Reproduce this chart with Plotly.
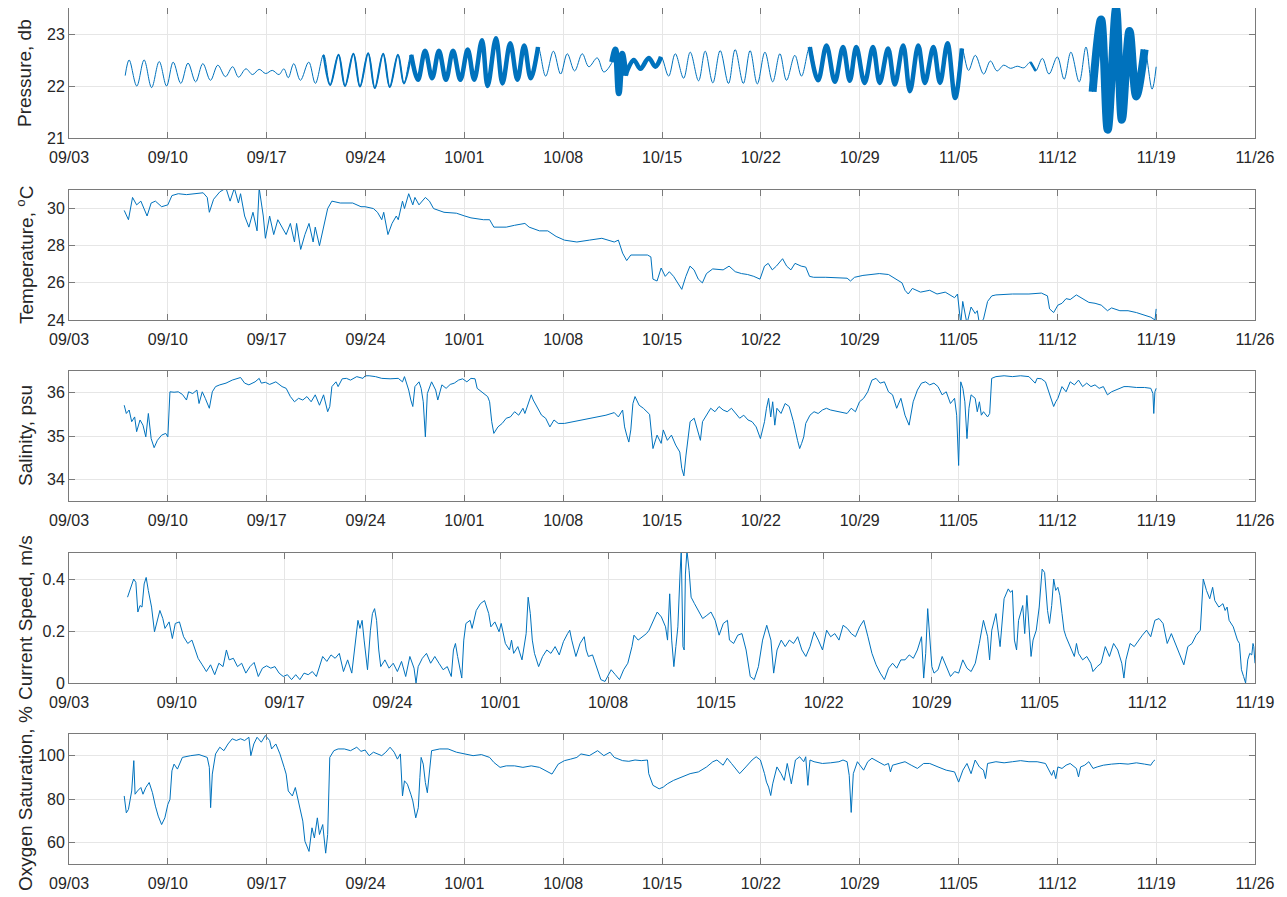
import numpy as np
import pandas as pd
import plotly.graph_objects as go

T0 = pd.Timestamp("2020-09-03")

# ---------------- data (day offset from 09/03, value) ----------------
pressure_db = [
    (3.98, 22.2), (4.26, 22.5), (4.80, 22.0), (5.32, 22.5), (5.85, 21.97), (6.39, 22.47), (6.91, 22.0),
    (7.38, 22.46), (7.92, 22.05), (8.43, 22.44), (8.97, 22.08), (9.48, 22.43), (10.02, 22.11), (10.54, 22.4),
    (11.08, 22.18), (11.59, 22.37), (12.01, 22.17), (12.53, 22.33), (13.00, 22.22), (13.47, 22.32),
    (13.93, 22.24), (14.40, 22.3), (14.87, 22.22), (15.22, 22.33), (15.53, 22.16), (15.92, 22.43),
    (16.39, 22.11), (16.98, 22.46), (17.45, 22.05), (18.03, 22.6), (18.50, 22.02), (19.09, 22.6),
    (19.55, 22.0), (20.14, 22.62), (20.61, 21.99), (21.19, 22.63), (21.66, 21.96), (22.25, 22.62),
    (22.72, 21.98), (23.30, 22.6), (23.72, 22.05), (24.24, 22.6), (24.72, 22.12), (25.22, 22.68),
    (25.72, 22.15), (26.20, 22.68), (26.70, 22.12), (27.20, 22.68), (27.72, 22.12), (28.24, 22.7),
    (28.70, 22.12), (29.25, 22.88), (29.65, 22.0), (30.24, 22.92), (30.70, 22.05), (31.25, 22.82),
    (31.76, 22.12), (32.24, 22.78), (32.70, 22.15), (33.22, 22.75), (33.76, 22.19), (34.31, 22.67),
    (34.82, 22.23), (35.29, 22.62), (35.81, 22.29), (36.35, 22.62), (36.82, 22.37), (37.41, 22.54),
    (37.88, 22.27), (38.47, 22.46), (38.70, 22.7), (38.94, 21.86), (39.18, 22.62), (39.41, 22.2),
    (40.00, 22.5), (40.47, 22.33), (41.06, 22.54), (41.53, 22.37), (41.93, 22.56), (42.47, 22.19),
    (42.94, 22.62), (43.53, 22.15), (44.00, 22.65), (44.59, 22.1), (45.06, 22.67), (45.60, 22.06),
    (46.12, 22.68), (46.71, 22.05), (47.18, 22.7), (47.76, 22.05), (48.24, 22.68), (48.75, 22.04),
    (49.29, 22.65), (49.84, 22.08), (50.35, 22.62), (50.82, 22.11), (51.41, 22.59), (51.88, 22.19),
    (52.47, 22.75), (53.06, 22.11), (53.65, 22.78), (54.24, 22.08), (54.82, 22.75), (55.30, 22.1),
    (55.76, 22.75), (56.35, 22.06), (56.94, 22.75), (57.42, 22.06), (58.01, 22.72), (58.49, 22.03),
    (59.08, 22.78), (59.56, 21.9), (60.15, 22.78), (60.62, 22.06), (61.22, 22.75), (61.69, 22.06),
    (62.22, 22.82), (62.76, 21.77), (63.24, 22.72), (63.71, 22.3), (64.19, 22.59), (64.78, 22.23),
    (65.26, 22.48), (65.73, 22.29), (66.20, 22.4), (66.68, 22.34), (67.16, 22.38), (67.63, 22.35),
    (68.10, 22.46), (68.46, 22.29), (68.94, 22.53), (69.41, 22.23), (70.00, 22.56), (70.48, 22.13),
    (70.96, 22.65), (71.55, 22.08), (72.03, 22.75), (72.50, 21.89), (73.10, 23.28), (73.57, 21.16),
    (74.16, 23.49), (74.57, 21.35), (75.11, 23.06), (75.59, 21.8), (76.18, 22.7), (76.71, 21.94),
    (77.00, 22.37),
]
# spans (day offsets) where short-period waves thicken the pressure record, with band weight
pressure_wave_spans = [
    (17.7, 24.3, 2.0), (24.2, 33.4, 4.5), (38.45, 39.45, 6.0), (39.4, 42.0, 4.5),
    (52.0, 63.3, 4.5), (68.0, 68.5, 2.5), (72.45, 76.2, 8.0),
]

temperature_c = [
    (3.91, 29.9), (4.21, 29.4), (4.50, 30.6), (4.79, 30.2), (5.09, 30.4), (5.53, 29.6), (5.82, 30.3),
    (6.12, 30.4), (6.56, 30.1), (7.00, 30.2), (7.29, 30.7), (7.74, 30.8), (8.32, 30.75), (8.91, 30.8),
    (9.50, 30.85), (9.79, 30.6), (9.94, 29.8), (10.24, 30.5), (10.68, 30.9), (11.12, 31.1), (11.41, 30.4),
    (11.71, 31.1), (12.00, 30.3), (12.15, 30.8), (12.44, 29.6), (12.74, 29.0), (13.03, 29.8), (13.32, 28.8),
    (13.47, 31.1), (13.76, 29.6), (13.91, 28.4), (14.21, 29.6), (14.50, 28.6), (14.79, 29.4), (15.09, 29.0),
    (15.38, 28.6), (15.68, 29.2), (15.97, 28.2), (16.12, 29.2), (16.41, 27.8), (16.71, 28.6), (17.00, 29.2),
    (17.29, 28.2), (17.44, 29.0), (17.74, 28.0), (18.03, 29.0), (18.32, 30.0), (18.62, 30.4), (19.21, 30.3),
    (20.09, 30.3), (20.68, 30.1), (20.97, 30.1), (21.56, 30.0), (21.85, 29.8), (22.15, 29.4), (22.29, 29.8),
    (22.59, 28.6), (22.88, 29.2), (23.18, 29.6), (23.32, 29.4), (23.62, 30.4), (23.76, 30.0), (24.06, 30.8),
    (24.35, 30.2), (24.50, 30.6), (24.79, 30.2), (25.24, 30.6), (25.53, 30.4), (25.82, 30.0), (26.56, 29.8),
    (27.44, 29.75), (28.03, 29.6), (28.47, 29.5), (29.35, 29.4), (29.79, 29.4), (30.09, 29.0), (30.97, 29.0),
    (31.56, 29.1), (32.29, 29.2), (32.59, 29.0), (33.32, 28.8), (33.91, 28.8), (34.50, 28.5), (35.09, 28.3),
    (35.97, 28.2), (36.85, 28.3), (37.74, 28.4), (38.62, 28.2), (38.91, 28.3), (39.21, 27.6), (39.50, 27.2),
    (39.79, 27.5), (40.97, 27.5), (41.21, 27.4), (41.36, 26.2), (41.65, 26.1), (41.94, 26.8), (42.23, 26.35),
    (42.52, 26.6), (42.82, 26.35), (43.40, 25.65), (43.69, 26.35), (43.98, 26.9), (44.27, 26.7), (44.57, 26.2),
    (44.86, 26.0), (45.15, 26.5), (45.59, 26.75), (46.33, 26.7), (46.75, 26.9), (47.19, 26.6), (47.63, 26.5),
    (48.06, 26.45), (48.50, 26.35), (48.94, 26.2), (49.26, 26.9), (49.52, 27.05), (49.81, 26.7), (50.10, 26.9),
    (50.54, 27.3), (50.83, 26.9), (51.13, 26.7), (51.42, 27.05), (51.86, 26.9), (52.18, 26.85), (52.45, 26.35),
    (52.74, 26.3), (53.60, 26.3), (54.48, 26.25), (55.11, 26.25), (55.35, 26.1), (55.64, 26.3), (56.23, 26.4),
    (56.81, 26.45), (57.39, 26.5), (58.04, 26.45), (58.56, 26.2), (59.00, 26.0), (59.21, 25.6), (59.44, 25.4),
    (59.73, 25.7), (60.31, 25.5), (60.96, 25.6), (61.48, 25.4), (62.06, 25.5), (62.72, 25.2), (62.93, 25.4),
    (63.16, 23.8), (63.30, 25.0), (63.60, 23.8), (63.89, 24.7), (64.18, 24.35), (64.33, 24.5), (64.48, 23.8),
    (64.77, 24.05), (65.06, 25.0), (65.36, 25.3), (65.65, 25.35), (66.82, 25.4), (67.99, 25.4), (68.87, 25.45),
    (69.30, 25.3), (69.45, 24.6), (69.74, 24.4), (70.04, 24.8), (70.33, 24.9), (70.62, 25.15), (70.91, 25.1),
    (71.35, 25.35), (71.79, 25.15), (72.23, 24.95), (72.67, 24.9), (73.11, 24.8), (73.55, 24.5), (73.84, 24.65),
    (74.43, 24.5), (75.01, 24.5), (75.60, 24.4), (76.18, 24.25), (76.62, 24.15), (76.92, 24.0), (77.00, 24.6),
]

salinity_psu = [
    (3.91, 35.71), (4.06, 35.52), (4.26, 35.6), (4.44, 35.33), (4.65, 35.44), (4.79, 35.1), (5.03, 35.37),
    (5.24, 35.25), (5.44, 34.98), (5.62, 35.52), (5.82, 34.94), (6.03, 34.73), (6.26, 34.9), (6.56, 35.02),
    (6.85, 35.06), (7.00, 34.98), (7.15, 36.02), (7.44, 36.01), (7.74, 36.02), (8.03, 35.96), (8.32, 35.83),
    (8.47, 36.02), (8.76, 35.98), (9.06, 36.06), (9.21, 35.75), (9.44, 36.02), (9.65, 35.87), (9.94, 35.64),
    (10.15, 36.02), (10.38, 36.14), (10.68, 36.18), (11.12, 36.22), (11.56, 36.29), (11.85, 36.32),
    (12.15, 36.35), (12.44, 36.22), (12.74, 36.18), (13.18, 36.25), (13.47, 36.33), (13.62, 36.22),
    (13.91, 36.24), (14.21, 36.19), (14.65, 36.25), (15.09, 36.14), (15.38, 36.1), (15.68, 35.91),
    (15.97, 35.79), (16.26, 35.87), (16.56, 35.83), (16.85, 35.91), (17.15, 35.79), (17.44, 35.95),
    (17.74, 35.71), (18.03, 35.95), (18.32, 35.56), (18.47, 35.68), (18.62, 36.14), (18.91, 36.25),
    (19.06, 36.14), (19.35, 36.32), (19.65, 36.33), (19.94, 36.29), (20.38, 36.37), (20.82, 36.33),
    (20.97, 36.39), (21.26, 36.39), (21.71, 36.37), (22.15, 36.33), (22.74, 36.32), (23.32, 36.33),
    (23.62, 36.25), (23.76, 36.37), (24.06, 36.06), (24.21, 35.83), (24.35, 35.68), (24.50, 36.14),
    (24.79, 36.25), (24.94, 36.1), (25.09, 35.79), (25.24, 34.98), (25.38, 35.98), (25.68, 36.25),
    (25.97, 36.06), (26.12, 35.83), (26.41, 36.18), (26.71, 36.1), (27.00, 36.19), (27.29, 36.22),
    (27.59, 36.29), (27.88, 36.32), (28.18, 36.25), (28.47, 36.33), (28.76, 36.32), (28.91, 36.1),
    (29.21, 36.02), (29.35, 35.98), (29.65, 35.91), (29.79, 35.79), (29.94, 35.33), (30.09, 35.06),
    (30.38, 35.21), (30.68, 35.29), (30.97, 35.41), (31.26, 35.44), (31.56, 35.56), (31.85, 35.48),
    (32.15, 35.64), (32.29, 35.52), (32.59, 35.79), (32.74, 35.95), (32.88, 35.83), (33.18, 35.64),
    (33.47, 35.48), (33.76, 35.41), (34.06, 35.21), (34.35, 35.37), (34.65, 35.29), (35.09, 35.29),
    (35.68, 35.33), (36.26, 35.37), (36.85, 35.41), (37.44, 35.44), (38.03, 35.48), (38.62, 35.54),
    (38.91, 35.44), (39.21, 35.6), (39.35, 35.21), (39.50, 35.02), (39.65, 34.86), (39.79, 35.14),
    (39.94, 35.75), (40.09, 35.91), (40.38, 35.71), (40.68, 35.64), (41.12, 35.5), (41.36, 34.71),
    (41.65, 35.02), (41.94, 34.83), (42.09, 35.14), (42.38, 34.9), (42.67, 35.02), (42.97, 34.79),
    (43.26, 34.63), (43.40, 34.25), (43.55, 34.08), (43.70, 34.56), (43.99, 35.33), (44.28, 35.41),
    (44.58, 35.02), (44.72, 34.9), (44.87, 35.33), (45.16, 35.48), (45.45, 35.64), (45.75, 35.56),
    (46.04, 35.68), (46.33, 35.6), (46.62, 35.56), (46.92, 35.64), (47.21, 35.52), (47.50, 35.41),
    (47.79, 35.48), (48.09, 35.37), (48.38, 35.33), (48.67, 35.21), (48.97, 34.94), (49.26, 35.33),
    (49.40, 35.64), (49.55, 35.87), (49.70, 35.44), (49.84, 35.79), (49.99, 35.25), (50.14, 35.64),
    (50.43, 35.52), (50.72, 35.75), (51.01, 35.68), (51.31, 35.33), (51.60, 34.9), (51.75, 34.71),
    (51.89, 34.83), (52.04, 34.98), (52.18, 35.29), (52.48, 35.48), (52.77, 35.56), (53.06, 35.52),
    (53.36, 35.6), (53.65, 35.64), (53.94, 35.6), (54.53, 35.56), (55.11, 35.52), (55.40, 35.64),
    (55.70, 35.56), (55.99, 35.79), (56.28, 35.87), (56.57, 36.02), (56.87, 36.29), (57.16, 36.33),
    (57.45, 36.22), (57.75, 36.25), (58.04, 36.02), (58.33, 35.95), (58.62, 35.64), (58.92, 35.87),
    (59.21, 35.48), (59.50, 35.25), (59.79, 35.79), (60.09, 36.06), (60.38, 36.22), (60.67, 36.25),
    (60.96, 36.18), (61.26, 36.22), (61.55, 36.14), (61.84, 35.95), (62.13, 36.02), (62.43, 35.75),
    (62.72, 35.87), (62.87, 35.48), (63.01, 34.32), (63.16, 36.25), (63.31, 36.1), (63.45, 35.79),
    (63.60, 34.94), (63.74, 35.64), (63.89, 35.95), (64.18, 35.87), (64.33, 35.56), (64.48, 35.79),
    (64.62, 35.48), (64.77, 35.56), (65.06, 35.44), (65.21, 35.52), (65.35, 36.33), (65.65, 36.37),
    (66.23, 36.39), (66.82, 36.37), (67.40, 36.39), (67.99, 36.37), (68.43, 36.22), (68.57, 36.33),
    (68.87, 36.32), (69.16, 36.25), (69.45, 35.95), (69.60, 35.79), (69.74, 35.68), (69.89, 35.79),
    (70.04, 35.87), (70.33, 36.14), (70.62, 36.02), (70.91, 36.25), (71.21, 36.18), (71.50, 36.29),
    (71.79, 36.14), (72.08, 36.22), (72.38, 36.14), (72.67, 36.18), (72.96, 36.1), (73.26, 36.14),
    (73.55, 35.95), (73.84, 36.02), (74.13, 36.06), (74.43, 36.1), (74.72, 36.14), (75.01, 36.14),
    (75.60, 36.12), (76.18, 36.12), (76.62, 36.1), (76.77, 35.98), (76.83, 35.52), (76.91, 36.02),
    (77.00, 36.1),
]

current_speed_ms = [
    (3.80, 0.33), (4.02, 0.368), (4.20, 0.4), (4.34, 0.387), (4.47, 0.273), (4.61, 0.298), (4.74, 0.292),
    (4.88, 0.381), (5.01, 0.406), (5.15, 0.356), (5.36, 0.292), (5.55, 0.197), (5.69, 0.229), (5.90, 0.279),
    (6.09, 0.248), (6.23, 0.21), (6.50, 0.235), (6.71, 0.171), (6.90, 0.229), (7.17, 0.235), (7.44, 0.178),
    (7.71, 0.152), (7.98, 0.165), (8.11, 0.14), (8.38, 0.095), (8.65, 0.07), (8.92, 0.044), (9.19, 0.07),
    (9.46, 0.032), (9.73, 0.076), (10.00, 0.063), (10.22, 0.127), (10.40, 0.089), (10.67, 0.095),
    (10.94, 0.063), (11.21, 0.076), (11.48, 0.038), (11.75, 0.063), (12.02, 0.079), (12.29, 0.025),
    (12.56, 0.057), (12.83, 0.066), (13.10, 0.057), (13.37, 0.063), (13.64, 0.038), (13.91, 0.025),
    (14.18, 0.032), (14.45, 0.013), (14.72, 0.032), (14.99, 0.013), (15.26, 0.038), (15.53, 0.032),
    (15.80, 0.044), (16.06, 0.025), (16.33, 0.076), (16.47, 0.102), (16.74, 0.083), (17.01, 0.108),
    (17.28, 0.095), (17.55, 0.114), (17.82, 0.044), (18.09, 0.089), (18.36, 0.038), (18.63, 0.165),
    (18.76, 0.241), (18.89, 0.21), (19.03, 0.241), (19.16, 0.165), (19.38, 0.051), (19.57, 0.203),
    (19.70, 0.267), (19.84, 0.286), (19.97, 0.241), (20.11, 0.127), (20.24, 0.063), (20.51, 0.089),
    (20.78, 0.057), (21.05, 0.076), (21.32, 0.044), (21.59, 0.083), (21.86, 0.025), (22.13, 0.102),
    (22.40, 0.057), (22.53, 0.0), (22.67, 0.063), (22.94, 0.095), (23.21, 0.114), (23.48, 0.076),
    (23.75, 0.102), (24.02, 0.076), (24.29, 0.051), (24.56, 0.063), (24.82, 0.025), (24.96, 0.127),
    (25.09, 0.152), (25.23, 0.102), (25.50, 0.019), (25.63, 0.165), (25.77, 0.229), (26.04, 0.241),
    (26.17, 0.21), (26.44, 0.279), (26.71, 0.305), (26.98, 0.317), (27.25, 0.267), (27.39, 0.216),
    (27.65, 0.235), (27.92, 0.197), (28.06, 0.229), (28.33, 0.152), (28.60, 0.127), (28.73, 0.165),
    (28.87, 0.114), (29.14, 0.14), (29.41, 0.089), (29.68, 0.19), (29.81, 0.33), (29.95, 0.267),
    (30.08, 0.165), (30.22, 0.114), (30.49, 0.063), (30.75, 0.102), (31.02, 0.127), (31.29, 0.114),
    (31.56, 0.14), (31.83, 0.108), (32.10, 0.159), (32.37, 0.19), (32.51, 0.203), (32.64, 0.165),
    (32.91, 0.102), (33.18, 0.152), (33.45, 0.178), (33.58, 0.127), (33.72, 0.102), (33.99, 0.108),
    (34.26, 0.063), (34.39, 0.038), (34.53, 0.013), (34.80, 0.006), (35.07, 0.038), (35.20, 0.051),
    (35.47, 0.032), (35.74, 0.013), (36.01, 0.051), (36.28, 0.076), (36.55, 0.14), (36.68, 0.184),
    (36.95, 0.165), (37.22, 0.178), (37.49, 0.19), (37.66, 0.203), (37.92, 0.241), (38.19, 0.273),
    (38.46, 0.254), (38.73, 0.216), (38.86, 0.165), (39.00, 0.343), (39.13, 0.165), (39.27, 0.063),
    (39.40, 0.14), (39.53, 0.216), (39.67, 0.419), (39.75, 0.51), (39.86, 0.14), (39.94, 0.127),
    (40.02, 0.419), (40.12, 0.51), (40.26, 0.432), (40.39, 0.33), (40.61, 0.305), (40.87, 0.279),
    (41.14, 0.248), (41.41, 0.26), (41.68, 0.273), (41.95, 0.241), (42.21, 0.184), (42.48, 0.229),
    (42.75, 0.241), (42.88, 0.165), (43.15, 0.152), (43.42, 0.184), (43.69, 0.19), (43.96, 0.127),
    (44.23, 0.025), (44.49, 0.013), (44.76, 0.063), (45.03, 0.165), (45.30, 0.222), (45.57, 0.165),
    (45.75, 0.038), (45.97, 0.127), (46.24, 0.165), (46.50, 0.14), (46.77, 0.165), (47.04, 0.152),
    (47.31, 0.178), (47.58, 0.127), (47.84, 0.102), (48.11, 0.14), (48.38, 0.197), (48.65, 0.165),
    (48.92, 0.127), (49.19, 0.203), (49.45, 0.178), (49.72, 0.19), (49.99, 0.165), (50.26, 0.222),
    (50.53, 0.21), (50.79, 0.19), (51.06, 0.178), (51.33, 0.216), (51.60, 0.241), (51.87, 0.178),
    (52.13, 0.114), (52.40, 0.07), (52.67, 0.038), (52.94, 0.013), (53.21, 0.057), (53.47, 0.076),
    (53.74, 0.057), (54.01, 0.089), (54.28, 0.089), (54.55, 0.108), (54.82, 0.095), (55.08, 0.127),
    (55.35, 0.178), (55.49, 0.019), (55.62, 0.114), (55.75, 0.286), (55.89, 0.165), (56.02, 0.063),
    (56.16, 0.038), (56.42, 0.051), (56.69, 0.102), (56.96, 0.063), (57.23, 0.025), (57.50, 0.044),
    (57.76, 0.038), (58.03, 0.089), (58.30, 0.057), (58.57, 0.044), (58.84, 0.076), (59.10, 0.152),
    (59.37, 0.241), (59.64, 0.178), (59.77, 0.089), (59.91, 0.203), (60.18, 0.267), (60.45, 0.14),
    (60.71, 0.324), (60.98, 0.362), (61.12, 0.349), (61.25, 0.356), (61.38, 0.165), (61.52, 0.127),
    (61.65, 0.241), (61.92, 0.298), (62.05, 0.19), (62.19, 0.337), (62.32, 0.229), (62.46, 0.102),
    (62.59, 0.165), (62.80, 0.203), (62.99, 0.292), (63.18, 0.438), (63.34, 0.425), (63.53, 0.279),
    (63.66, 0.229), (63.80, 0.298), (63.93, 0.4), (64.06, 0.356), (64.20, 0.368), (64.33, 0.337),
    (64.47, 0.267), (64.60, 0.203), (64.73, 0.178), (65.00, 0.14), (65.27, 0.102), (65.41, 0.152),
    (65.54, 0.114), (65.81, 0.089), (66.08, 0.102), (66.34, 0.076), (66.48, 0.044), (66.75, 0.063),
    (67.01, 0.076), (67.28, 0.14), (67.55, 0.102), (67.82, 0.152), (68.09, 0.127), (68.35, 0.076),
    (68.49, 0.019), (68.62, 0.089), (68.89, 0.152), (69.16, 0.14), (69.43, 0.165), (69.69, 0.184),
    (69.96, 0.203), (70.23, 0.178), (70.50, 0.241), (70.77, 0.248), (71.03, 0.229), (71.30, 0.152),
    (71.57, 0.19), (71.84, 0.152), (72.11, 0.108), (72.38, 0.07), (72.64, 0.14), (72.91, 0.152),
    (73.18, 0.184), (73.45, 0.203), (73.64, 0.4), (73.85, 0.356), (74.06, 0.324), (74.25, 0.368),
    (74.39, 0.317), (74.65, 0.292), (74.92, 0.305), (75.06, 0.279), (75.19, 0.292), (75.32, 0.241),
    (75.59, 0.216), (75.86, 0.165), (75.99, 0.152), (76.12, 0.051), (76.26, 0.025), (76.39, 0.0),
    (76.53, 0.089), (76.66, 0.114), (76.79, 0.108), (76.87, 0.152), (76.92, 0.14), (77.00, 0.076),
]

oxygen_pct = [
    (3.91, 81.4), (4.06, 73.6), (4.21, 75.2), (4.44, 83.7), (4.59, 97.7), (4.68, 82.2), (4.85, 83.7),
    (5.09, 85.3), (5.24, 82.2), (5.44, 85.3), (5.68, 87.6), (5.91, 82.9), (6.12, 76.7), (6.32, 72.1),
    (6.56, 68.2), (6.79, 71.3), (7.00, 77.5), (7.15, 79.8), (7.29, 93.0), (7.44, 96.1), (7.68, 93.8),
    (8.03, 99.2), (8.62, 100.0), (9.21, 100.5), (9.79, 99.2), (9.94, 94.6), (10.03, 76.0), (10.15, 91.5),
    (10.38, 100.8), (10.68, 103.9), (10.97, 102.3), (11.26, 105.4), (11.56, 107.8), (11.85, 107.0),
    (12.15, 107.8), (12.44, 107.0), (12.74, 108.5), (12.88, 100.0), (13.09, 105.4), (13.32, 108.5),
    (13.62, 106.2), (13.91, 109.3), (14.21, 107.0), (14.35, 103.1), (14.65, 105.4), (14.94, 100.8),
    (15.24, 94.6), (15.38, 91.5), (15.53, 83.7), (15.82, 81.4), (16.03, 85.3), (16.26, 78.3),
    (16.56, 69.8), (16.71, 60.5), (17.00, 55.8), (17.21, 66.7), (17.38, 62.0), (17.59, 71.3),
    (17.74, 63.6), (17.97, 68.2), (18.18, 55.0), (18.32, 63.6), (18.47, 99.2), (18.76, 102.3),
    (19.06, 103.1), (19.50, 103.1), (19.94, 102.3), (20.38, 103.9), (20.68, 102.0), (20.97, 102.6),
    (21.26, 100.0), (21.56, 101.6), (21.85, 100.8), (22.15, 100.0), (22.44, 101.6), (22.74, 103.9),
    (23.03, 101.6), (23.26, 98.4), (23.47, 100.8), (23.62, 81.4), (23.76, 88.4), (23.97, 86.8),
    (24.21, 82.2), (24.35, 79.1), (24.56, 71.3), (24.74, 76.0), (24.85, 89.9), (24.94, 99.2),
    (25.09, 96.1), (25.24, 87.6), (25.38, 82.9), (25.53, 94.6), (25.68, 102.3), (26.26, 103.1),
    (26.85, 103.1), (27.44, 101.6), (28.03, 100.8), (28.62, 100.0), (29.21, 100.5), (29.79, 99.2),
    (30.09, 96.9), (30.53, 94.6), (30.97, 95.3), (31.56, 95.3), (32.15, 94.6), (32.74, 95.3),
    (33.32, 94.6), (33.76, 93.0), (34.21, 91.5), (34.65, 96.1), (35.09, 97.7), (35.53, 98.4),
    (35.97, 99.2), (36.26, 100.8), (36.85, 100.0), (37.44, 102.3), (37.88, 100.0), (38.32, 101.6),
    (38.62, 99.2), (39.21, 97.7), (39.65, 97.4), (40.09, 98.0), (40.53, 97.7), (40.97, 98.0),
    (41.06, 91.7), (41.36, 86.3), (41.80, 84.7), (42.09, 85.5), (42.38, 87.0), (42.82, 88.6),
    (43.40, 90.2), (43.99, 91.7), (44.58, 92.5), (45.16, 94.8), (45.60, 97.2), (45.89, 98.0),
    (46.33, 95.6), (46.62, 98.8), (46.92, 96.4), (47.50, 91.7), (47.94, 94.8), (48.38, 98.0),
    (48.67, 99.5), (48.97, 98.0), (49.26, 91.7), (49.40, 87.8), (49.55, 85.5), (49.70, 81.6),
    (49.84, 87.0), (50.14, 94.8), (50.43, 91.7), (50.66, 88.6), (50.87, 96.4), (51.16, 87.0),
    (51.45, 98.0), (51.75, 99.5), (52.04, 97.2), (52.18, 99.5), (52.33, 86.3), (52.48, 98.0),
    (52.77, 97.2), (53.36, 96.4), (53.94, 96.7), (54.53, 97.2), (54.82, 98.0), (55.11, 97.2),
    (55.26, 90.9), (55.40, 73.8), (55.55, 91.7), (55.84, 97.2), (56.28, 93.3), (56.57, 97.2),
    (56.87, 98.8), (57.31, 97.2), (57.75, 95.6), (58.04, 96.4), (58.18, 92.5), (58.33, 95.6),
    (58.77, 96.4), (59.21, 97.2), (59.65, 95.6), (60.09, 94.1), (60.53, 96.4), (60.96, 96.4),
    (61.55, 94.8), (62.13, 93.3), (62.72, 92.5), (63.01, 87.8), (63.31, 93.3), (63.60, 96.4),
    (63.89, 91.7), (64.18, 98.0), (64.48, 94.8), (64.77, 93.3), (64.91, 89.4), (65.06, 96.4),
    (65.65, 97.2), (66.23, 96.7), (66.82, 97.2), (67.40, 97.7), (67.99, 97.2), (68.57, 97.2),
    (69.16, 96.4), (69.60, 90.9), (69.74, 93.3), (69.89, 89.4), (70.04, 94.8), (70.33, 94.1),
    (70.62, 95.6), (70.91, 96.4), (71.35, 94.1), (71.50, 90.2), (71.65, 94.8), (71.94, 95.6),
    (72.23, 97.2), (72.53, 94.1), (72.82, 94.8), (73.26, 95.6), (73.84, 96.1), (74.43, 96.4),
    (75.01, 96.1), (75.60, 96.7), (76.18, 96.1), (76.62, 95.6), (76.77, 97.2), (76.91, 98.0),
]

panel_titles = ["Pressure, db", "Temperature, <sup>o</sup>C", "Salinity, psu",
                "Current Speed, m/s", "Oxygen Saturation, %"]
y_ranges = [(21, 23.5), (24, 31), (33.5, 36.5), (0, 0.5), (50, 110)]
y_ticks = [[21, 22, 23], [24, 26, 28, 30], [34, 35, 36], [0, 0.2, 0.4], [60, 80, 100]]
y_ticklabels = [["21", "22", "23"], ["24", "26", "28", "30"], ["34", "35", "36"],
                ["0", "0.2", "0.4"], ["60", "80", "100"]]
x_start = "2020-09-03"
x_ends = ["2020-11-26", "2020-11-26", "2020-11-26", "2020-11-19", "2020-11-26"]

# ---------------- figure ----------------
# the page body adds an 8px margin, so the figure is 8px smaller on each side
PAGE = 8
W, H = 1287 - PAGE, 897 - PAGE
ML, MR, MT = 69 - PAGE, 32, 0
panel_px = [(t - PAGE, b - PAGE) for t, b in [(8, 138), (190, 320), (371, 501), (553, 683), (734, 864)]]
MB = H - panel_px[-1][1]
plot_h = H - MT - MB
plot_w = W - ML - MR
domains = [[1 - (b - MT) / plot_h, 1 - (t - MT) / plot_h] for t, b in panel_px]

LINE = "#0072BD"
FONT = "Liberation Sans, Arial, Helvetica, sans-serif"
TXT = "#262626"
AXC = "#7a7a7a"


def to_time(days):
    return T0 + pd.to_timedelta(np.asarray(days, dtype=float), unit="D")


def unzip(pairs):
    return [p[0] for p in pairs], [p[1] for p in pairs]


fig = go.Figure()

series = [pressure_db, temperature_c, salinity_psu, current_speed_ms, oxygen_pct]
for i, s in enumerate(series):
    d, v = unzip(s)
    xa = "x" if i == 0 else f"x{i + 1}"
    ya = "y" if i == 0 else f"y{i + 1}"
    fig.add_trace(go.Scatter(
        x=to_time(d), y=v, mode="lines", xaxis=xa, yaxis=ya,
        line=dict(color=LINE, width=1, shape="spline" if i == 0 else "linear", smoothing=1.0),
        showlegend=False, hoverinfo="skip"))

# thickened pressure record where short-period waves ride on the tide
pd_days, pd_vals = unzip(pressure_db)
pd_days = np.array(pd_days)
pd_vals = np.array(pd_vals)
for a, b, wgt in pressure_wave_spans:
    m = (pd_days >= a) & (pd_days <= b)
    fig.add_trace(go.Scatter(
        x=to_time(pd_days[m]), y=pd_vals[m], mode="lines", xaxis="x", yaxis="y",
        line=dict(color=LINE, width=wgt, shape="spline", smoothing=1.0),
        showlegend=False, hoverinfo="skip"))

layout = dict(
    width=W, height=H,
    margin=dict(l=ML, r=MR, t=MT, b=MB, pad=0),
    paper_bgcolor="white", plot_bgcolor="white",
    showlegend=False,
    font=dict(family=FONT, color=TXT, size=15),
)

annotations = []
for i in range(5):
    k = "" if i == 0 else str(i + 1)
    common = dict(
        showline=True, linecolor=AXC, linewidth=1, mirror="ticks",
        ticks="inside", ticklen=6, tickcolor=AXC,
        showgrid=True, gridcolor="#e6e6e6", gridwidth=1, zeroline=False,
        tickfont=dict(family=FONT, size=16, color=TXT), automargin=False,
    )
    layout[f"xaxis{k}"] = dict(
        domain=[0, 1], anchor=f"y{k}", type="date",
        range=[x_start, x_ends[i]],
        tick0=x_start, dtick=7 * 86400000, tickformat="%m/%d",
        ticklabelstandoff=5, **common,
    )
    layout[f"yaxis{k}"] = dict(
        domain=domains[i], anchor=f"x{k}",
        range=list(y_ranges[i]), tickvals=y_ticks[i], ticktext=y_ticklabels[i],
        **common,
    )
    annotations.append(dict(
        text=panel_titles[i], textangle=-90, showarrow=False,
        xref="paper", yref="paper",
        x=(25 - PAGE - ML) / plot_w, y=(domains[i][0] + domains[i][1]) / 2,
        xanchor="center", yanchor="middle",
        font=dict(family=FONT, size=19, color=TXT),
    ))

layout["annotations"] = annotations
fig.update_layout(**layout)

fig.write_html("out.html")
